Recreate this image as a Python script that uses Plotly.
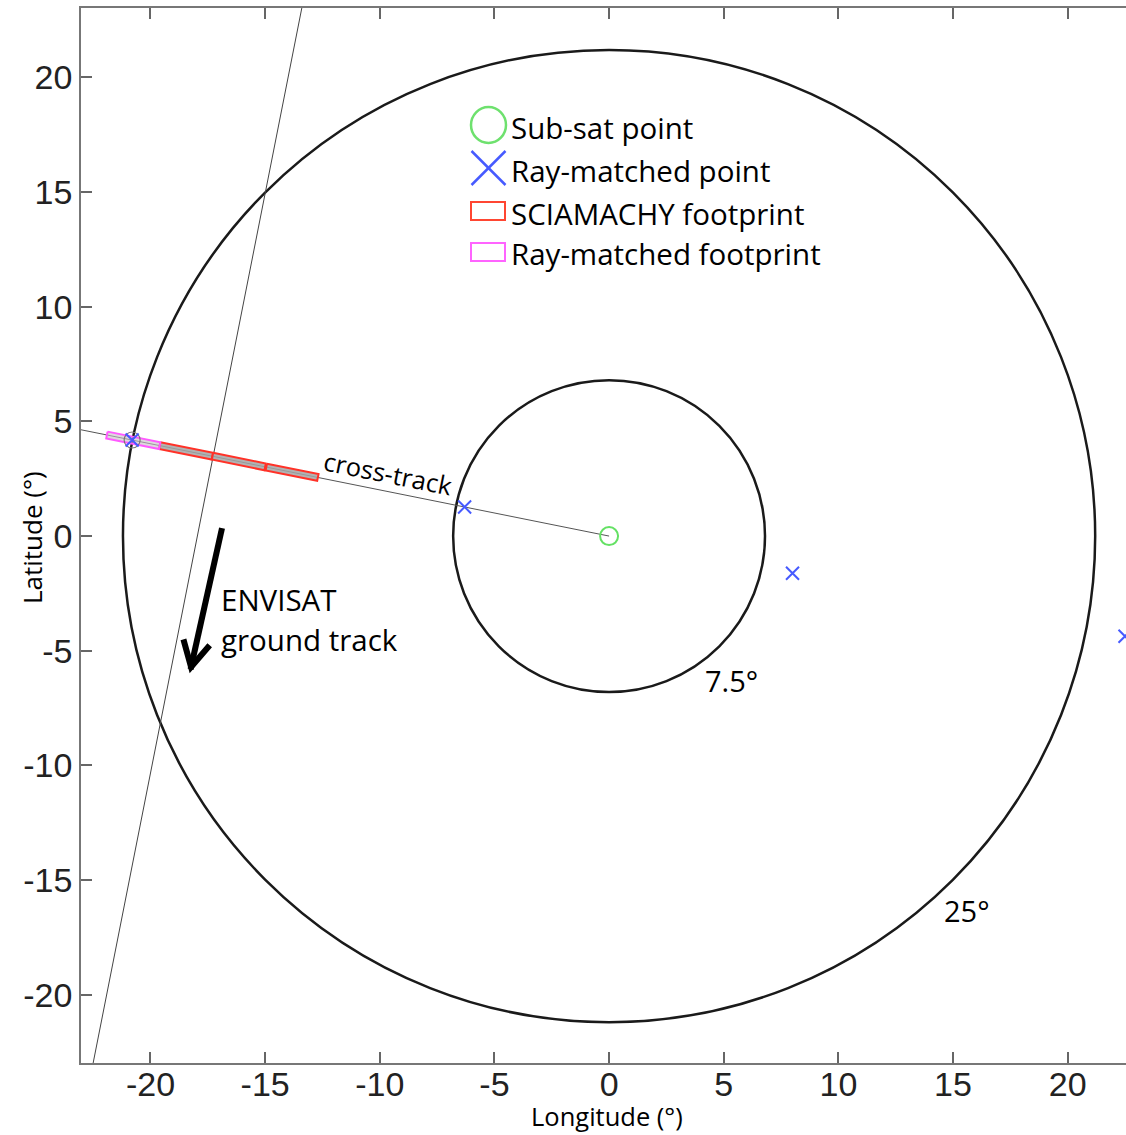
import math
import plotly.graph_objects as go

# ---------------- data ----------------
subsat_lon = [0.0]
subsat_lat = [0.0]
ray_lon = [-20.8, -6.3, 8.0, 22.5]
ray_lat = [4.19, 1.27, -1.62, -4.37]
cross_lon = [0.0, -23.3]
cross_lat = [0.0, 4.69]
ground_lon = [-13.4, -22.5]
ground_lat = [23.03, -22.98]
circle_radii = [6.8, 21.2]
circle_labels = ["7.5°", "25°"]
circle_label_lon = [5.32, 15.61]
circle_label_lat = [-6.28, -16.31]
scia_start = [-19.6, -17.3, -14.95]
scia_end = [-17.3, -15.0, -12.7]
raymatch_fp_start = [-21.9]
raymatch_fp_end = [-19.6]
footprint_halfwidth = 0.15
arrow_start = (-16.88, 0.35)
arrow_tip = (-18.23, -5.71)
tick_vals = [-20, -15, -10, -5, 0, 5, 10, 15, 20]
tick_text = ["-20", "-15", "-10", "-5", "0", "5", "10", "15", "20"]
legend_labels = ["Sub-sat point", "Ray-matched point", "SCIAMACHY footprint", "Ray-matched footprint"]

# ---------------- layout geometry ----------------
W, H = 1126, 1135
ML, MT = 81, 8
PLOT_W = W - ML
PLOT_H = 1055
MB = H - MT - PLOT_H
MR = 0
PPU = 22.93
X0 = -23.03
Y0 = -22.98
xr = [X0, X0 + PLOT_W / PPU]
yr = [Y0, Y0 + PLOT_H / PPU]

slope = cross_lat[1] / cross_lon[1]
nrm = math.hypot(1.0, slope)
nx, ny = -slope / nrm, 1.0 / nrm


def rect_poly(a, b, hw):
    pa = (a, slope * a)
    pb = (b, slope * b)
    xs = [pa[0] + hw * nx, pb[0] + hw * nx, pb[0] - hw * nx, pa[0] - hw * nx, pa[0] + hw * nx]
    ys = [pa[1] + hw * ny, pb[1] + hw * ny, pb[1] - hw * ny, pa[1] - hw * ny, pa[1] + hw * ny]
    return xs, ys


def px2paper(px, py):
    return (px - ML) / PLOT_W, (MT + PLOT_H - py) / PLOT_H


fig = go.Figure()

fig.add_trace(go.Scatter(x=cross_lon, y=cross_lat, mode="lines",
                         line=dict(color="#555555", width=1), hoverinfo="skip", showlegend=False))
fig.add_trace(go.Scatter(x=ground_lon, y=ground_lat, mode="lines",
                         line=dict(color="#444444", width=1), hoverinfo="skip", showlegend=False))

for a, b in zip(scia_start, scia_end):
    xs, ys = rect_poly(a, b, footprint_halfwidth)
    fig.add_trace(go.Scatter(x=xs, y=ys, mode="lines", fill="toself",
                             fillcolor="rgba(165,165,165,0.85)",
                             line=dict(color="rgb(255,50,40)", width=2),
                             hoverinfo="skip", showlegend=False))
for a, b in zip(raymatch_fp_start, raymatch_fp_end):
    xs, ys = rect_poly(a, b, footprint_halfwidth)
    fig.add_trace(go.Scatter(x=xs, y=ys, mode="lines", fill="toself",
                             fillcolor="rgba(200,190,200,0.6)",
                             line=dict(color="rgb(255,90,255)", width=2),
                             hoverinfo="skip", showlegend=False))

fig.add_trace(go.Scatter(x=ray_lon[:1], y=ray_lat[:1], mode="markers",
                         marker=dict(symbol="circle-open", size=16, color="#777777", line=dict(width=1.2)),
                         hoverinfo="skip", showlegend=False))
fig.add_trace(go.Scatter(x=ray_lon, y=ray_lat, mode="markers",
                         marker=dict(symbol="x-thin-open", size=13, color="rgb(70,90,255)",
                                     line=dict(width=2, color="rgb(70,90,255)")),
                         showlegend=False))
fig.add_trace(go.Scatter(x=subsat_lon, y=subsat_lat, mode="markers",
                         marker=dict(symbol="circle-open", size=18, color="rgb(100,225,100)",
                                     line=dict(width=2, color="rgb(100,225,100)")),
                         showlegend=False))

shapes = []
for r in circle_radii:
    shapes.append(dict(type="circle", xref="x", yref="y", x0=-r, x1=r, y0=-r, y1=r,
                       line=dict(color="#1a1a1a", width=2.5), layer="below"))

# arrow
dx, dy = arrow_tip[0] - arrow_start[0], arrow_tip[1] - arrow_start[1]
L = math.hypot(dx, dy)
ux, uy = dx / L, dy / L
head_len, head_ang = 1.25, math.radians(28)
arms = []
for sgn in (1, -1):
    c, s = math.cos(sgn * head_ang), math.sin(sgn * head_ang)
    rx, ry = ux * c - uy * s, ux * s + uy * c
    arms.append((arrow_tip[0] - head_len * rx, arrow_tip[1] - head_len * ry))
shapes.append(dict(type="line", xref="x", yref="y", x0=arrow_start[0], y0=arrow_start[1],
                   x1=arrow_tip[0] + 0.1 * ux, y1=arrow_tip[1] + 0.1 * uy,
                   line=dict(color="black", width=6)))
shapes.append(dict(type="path", xref="x", yref="y",
                   path=f"M {arms[0][0]},{arms[0][1]} L {arrow_tip[0]},{arrow_tip[1]} L {arms[1][0]},{arms[1][1]}",
                   line=dict(color="black", width=6)))

# manual legend (pixel positions)
leg_rows_y = [125, 168, 211, 252]
sym_cx = 488.5
x0, y0 = px2paper(sym_cx - 17.5, leg_rows_y[0] + 18)
x1, y1 = px2paper(sym_cx + 17.5, leg_rows_y[0] - 18)
shapes.append(dict(type="circle", xref="paper", yref="paper", x0=x0, y0=y0, x1=x1, y1=y1,
                   line=dict(color="rgb(110,225,110)", width=2.5)))
for (ax0, ay0, ax1, ay1) in [(-17, -17, 17, 17), (-17, 17, 17, -17)]:
    p0 = px2paper(sym_cx + ax0, leg_rows_y[1] + ay0)
    p1 = px2paper(sym_cx + ax1, leg_rows_y[1] + ay1)
    shapes.append(dict(type="line", xref="paper", yref="paper", x0=p0[0], y0=p0[1], x1=p1[0], y1=p1[1],
                       line=dict(color="rgb(70,90,255)", width=2.5)))
for row, col in [(2, "rgb(255,70,50)"), (3, "rgb(255,100,255)")]:
    p0 = px2paper(471, leg_rows_y[row] + 9)
    p1 = px2paper(505, leg_rows_y[row] - 9)
    shapes.append(dict(type="rect", xref="paper", yref="paper", x0=p0[0], y0=p0[1], x1=p1[0], y1=p1[1],
                       line=dict(color=col, width=2)))

TEXT_FONT = "Open Sans"
annotations = []
for lab, py in zip(legend_labels, leg_rows_y):
    px_, py_ = px2paper(509, py + 2)
    annotations.append(dict(x=px_, y=py_, xref="paper", yref="paper", text=lab, showarrow=False,
                            xanchor="left", yanchor="middle",
                            font=dict(family=TEXT_FONT, size=29.5, color="black")))

for lab, lx, ly in zip(circle_labels, circle_label_lon, circle_label_lat):
    annotations.append(dict(x=lx, y=ly, xref="x", yref="y", text=lab, showarrow=False,
                            xanchor="center", yanchor="middle",
                            font=dict(family=TEXT_FONT, size=29, color="black")))

annotations.append(dict(x=-9.64, y=2.75, xref="x", yref="y", text="cross-track", showarrow=False,
                        textangle=math.degrees(math.atan(-slope)),
                        xanchor="center", yanchor="middle",
                        font=dict(family=TEXT_FONT, size=25.5, color="black")))
annotations.append(dict(x=-17.0, y=-2.78, xref="x", yref="y", text="ENVISAT", showarrow=False,
                        xanchor="left", yanchor="middle", font=dict(family=TEXT_FONT, size=29.5, color="black")))
annotations.append(dict(x=-17.0, y=-4.52, xref="x", yref="y", text="ground track", showarrow=False,
                        xanchor="left", yanchor="middle", font=dict(family=TEXT_FONT, size=29.5, color="black")))

tx, ty = px2paper(32, 538)
annotations.append(dict(x=tx, y=ty, xref="paper", yref="paper", text="Latitude (°)", showarrow=False,
                        textangle=-90, xanchor="center", yanchor="middle",
                        font=dict(family=TEXT_FONT, size=26, color="black")))
tx, ty = px2paper(607, 1135)
annotations.append(dict(x=tx, y=ty, xref="paper", yref="paper", text="Longitude (°)", showarrow=False,
                        xanchor="center", yanchor="bottom",
                        font=dict(family=TEXT_FONT, size=25.5, color="black")))

tick_font = dict(family="Liberation Sans", size=34, color="#222222")
fig.update_layout(
    width=W, height=H,
    margin=dict(l=ML, r=MR, t=MT, b=MB, pad=0),
    paper_bgcolor="white", plot_bgcolor="white",
    shapes=shapes, annotations=annotations,
    showlegend=False,
    xaxis=dict(range=xr, tickvals=tick_vals, ticktext=tick_text, ticks="inside", ticklen=11,
               tickwidth=1.5, tickcolor="#666666",
               showline=True, linecolor="#777777", linewidth=1.5, mirror="ticks",
               showgrid=False, zeroline=False, tickfont=tick_font, ticklabelstandoff=-10),
    yaxis=dict(range=yr, tickvals=tick_vals, ticktext=tick_text, ticks="inside", ticklen=11,
               tickwidth=1.5, tickcolor="#666666",
               showline=True, linecolor="#777777", linewidth=1.5, mirror=False,
               showgrid=False, zeroline=False, tickfont=tick_font, ticklabelstandoff=0),
)

fig.write_html("out.html", config={"displayModeBar": False},
               post_script="document.body.style.margin='0';document.body.style.overflow='hidden';")
